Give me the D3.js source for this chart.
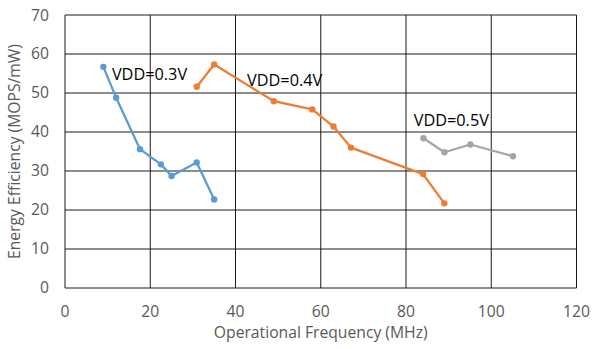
<!DOCTYPE html>
<html>
<head>
<meta charset="utf-8">
<script src="https://cdn.jsdelivr.net/npm/d3@7"></script>
<style>
  body { margin: 0; background: #fff; }
  text { font-family: 'Open Sans', sans-serif; }
</style>
</head>
<body>
<div id="chart"></div>
<script>
// Operational frequency (MHz) vs energy efficiency (MOPS/mW)
const freq03 = [9, 12, 17.6, 22.5, 25, 30.9, 35];
const eff03 = [56.7, 48.8, 35.6, 31.7, 28.7, 32.2, 22.7];
const freq04 = [30.9, 35, 49, 58, 63, 67.1, 84, 89];
const eff04 = [51.6, 57.3, 47.9, 45.8, 41.4, 36, 29.2, 21.7];
const freq05 = [84.1, 89, 95.1, 105.1];
const eff05 = [38.4, 34.8, 36.8, 33.8];
const seriesNames = ['VDD=0.3V', 'VDD=0.4V', 'VDD=0.5V'];
const xTicks = [0, 20, 40, 60, 80, 100, 120];
const yTicks = [0, 10, 20, 30, 40, 50, 60, 70];

const colors = ['#5b9bd5', '#ed7d31', '#a5a5a5'];
// label anchor points (data coords)
const labelPos = [
  { x: 11, y: 53.3 },
  { x: 42.7, y: 51.8 },
  { x: 81.8, y: 41.6 }
];

const W = 592, H = 349;
const margin = { top: 15, right: 15.5, bottom: 61, left: 65 };
const width = W - margin.left - margin.right;
const height = H - margin.top - margin.bottom;

const svg = d3.select('#chart').append('svg')
  .attr('width', W).attr('height', H);
const g = svg.append('g')
  .attr('transform', `translate(${margin.left},${margin.top})`);

const x = d3.scaleLinear().domain([0, 120]).range([0, width]);
const y = d3.scaleLinear().domain([0, 70]).range([height, 0]);

// gridlines
g.append('g').selectAll('line').data(yTicks).enter().append('line')
  .attr('x1', 0).attr('x2', width)
  .attr('y1', d => y(d)).attr('y2', d => y(d))
  .style('stroke', '#1a1a1a').style('stroke-width', 1);
g.append('g').selectAll('line').data(xTicks).enter().append('line')
  .attr('y1', 0).attr('y2', height)
  .attr('x1', d => x(d)).attr('x2', d => x(d))
  .style('stroke', '#1a1a1a').style('stroke-width', 1);

// tick labels
g.append('g').selectAll('text').data(yTicks).enter().append('text')
  .attr('x', -16).attr('y', d => y(d)).attr('dy', '0.35em')
  .attr('text-anchor', 'end')
  .style('font-size', '15.7px').style('fill', '#595959')
  .text(d => d);
g.append('g').selectAll('text').data(xTicks).enter().append('text')
  .attr('x', d => x(d)).attr('y', height + 29)
  .attr('text-anchor', 'middle')
  .style('font-size', '15.7px').style('fill', '#595959')
  .text(d => d);

// axis titles
svg.append('text')
  .attr('x', margin.left + width / 2).attr('y', 338)
  .attr('text-anchor', 'middle')
  .style('font-size', '15.7px').style('fill', '#595959')
  .text('Operational Frequency (MHz)');
svg.append('text')
  .attr('transform', `translate(20,${margin.top + height / 2}) rotate(-90)`)
  .attr('text-anchor', 'middle')
  .style('font-size', '15.7px').style('fill', '#595959')
  .text('Energy Efficiency (MOPS/mW)');

const series = [
  { xs: freq03, ys: eff03 },
  { xs: freq04, ys: eff04 },
  { xs: freq05, ys: eff05 }
].map((s, i) => ({ name: seriesNames[i], color: colors[i], pts: s.xs.map((v, j) => [v, s.ys[j]]) }));

const line = d3.line().x(d => x(d[0])).y(d => y(d[1]));

series.forEach((s, i) => {
  g.append('path').datum(s.pts)
    .attr('d', line)
    .style('fill', 'none').style('stroke', s.color)
    .style('stroke-width', 2.25).style('stroke-linejoin', 'round');
  g.append('g').selectAll('circle').data(s.pts).enter().append('circle')
    .attr('cx', d => x(d[0])).attr('cy', d => y(d[1]))
    .attr('r', 3.2).style('fill', s.color);
  g.append('text')
    .attr('x', x(labelPos[i].x)).attr('y', y(labelPos[i].y))
    .style('font-size', '16.3px').style('fill', '#000')
    .text(s.name);
});
</script>
</body>
</html>
